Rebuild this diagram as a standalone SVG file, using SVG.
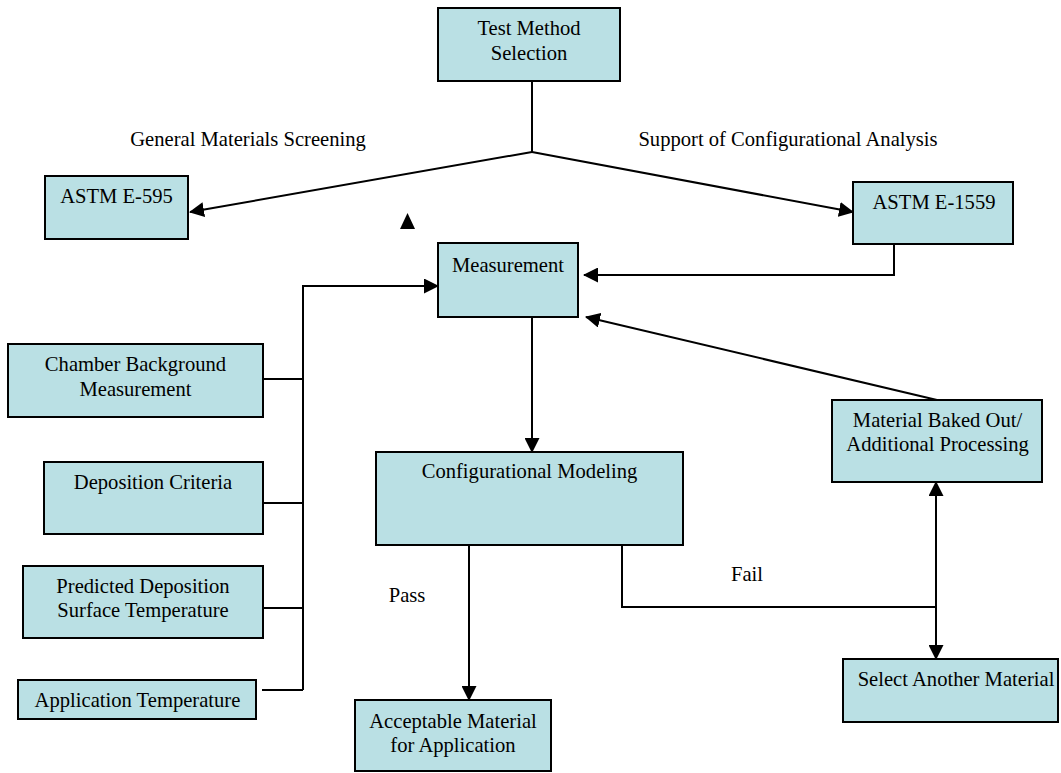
<svg xmlns="http://www.w3.org/2000/svg" width="1061" height="773" viewBox="0 0 1061 773">
<defs>
<style>
.box{fill:#bae0e4;stroke:#000;stroke-width:2}
.t{font-family:"Liberation Serif","Times New Roman",serif;font-size:20.6px;fill:#000;text-anchor:middle}
.c{fill:none;stroke:#000;stroke-width:2}
</style>
<marker id="ah" viewBox="0 0 15 15" refX="14" refY="7.5" markerWidth="15" markerHeight="15" markerUnits="userSpaceOnUse" orient="auto">
<path d="M0,0 L15,7.5 L0,15 z" fill="#000"/>
</marker>
</defs>
<rect width="1061" height="773" fill="#fff"/>

<g id="connectors">
<line class="c" x1="532" y1="81" x2="532" y2="152"/>
<line class="c" x1="532" y1="152" x2="190" y2="212" marker-end="url(#ah)"/>
<line class="c" x1="532" y1="152" x2="853" y2="212" marker-end="url(#ah)"/>
<polygon points="400,229 415,229 407.5,213" fill="#000"/>
<path class="c" d="M894,244 V275 H584" marker-end="url(#ah)"/>
<path class="c" d="M303,690 V286 H438" marker-end="url(#ah)"/>
<line class="c" x1="263" y1="379" x2="303" y2="379"/>
<line class="c" x1="263" y1="503" x2="303" y2="503"/>
<line class="c" x1="263" y1="608" x2="303" y2="608"/>
<line class="c" x1="262" y1="690" x2="303" y2="690"/>
<line class="c" x1="532" y1="317" x2="532" y2="452" marker-end="url(#ah)"/>
<line class="c" x1="937" y1="400" x2="586" y2="317" marker-end="url(#ah)"/>
<line class="c" x1="469" y1="545" x2="469" y2="700" marker-end="url(#ah)"/>
<path class="c" d="M622,545 V607 H936"/>
<line class="c" x1="936" y1="607" x2="936" y2="482" marker-end="url(#ah)"/>
<line class="c" x1="936" y1="607" x2="936" y2="659" marker-end="url(#ah)"/>
<text class="t" x="248" y="146">General Materials Screening</text>
<text class="t" x="788" y="146">Support of Configurational Analysis</text>
<text class="t" x="407" y="602">Pass</text>
<text class="t" x="747" y="581">Fail</text>
</g>

<g id="test-method">
<rect class="box" x="438" y="8" width="182" height="73"/>
<text class="t" x="529" y="35">Test Method</text>
<text class="t" x="529" y="60">Selection</text>
</g>
<g id="astm-e595">
<rect class="box" x="45" y="176" width="143" height="63"/>
<text class="t" x="116.5" y="203">ASTM E-595</text>
</g>
<g id="astm-e1559">
<rect class="box" x="853" y="182" width="160" height="62"/>
<text class="t" x="934" y="209">ASTM E-1559</text>
</g>
<g id="measurement">
<rect class="box" x="438" y="243" width="140" height="74"/>
<text class="t" x="508" y="272">Measurement</text>
</g>
<g id="chamber">
<rect class="box" x="8" y="344" width="255" height="73"/>
<text class="t" x="135.5" y="371">Chamber Background</text>
<text class="t" x="135.5" y="396">Measurement</text>
</g>
<g id="deposition">
<rect class="box" x="44" y="462" width="219" height="72"/>
<text class="t" x="153" y="489">Deposition Criteria</text>
</g>
<g id="predicted">
<rect class="box" x="23" y="566" width="240" height="72"/>
<text class="t" x="143" y="593">Predicted Deposition</text>
<text class="t" x="143" y="617">Surface Temperature</text>
</g>
<g id="application-temp">
<rect class="box" x="18" y="680" width="238" height="39"/>
<text class="t" x="137.5" y="707">Application Temperature</text>
</g>
<g id="config-modeling">
<rect class="box" x="376" y="452" width="307" height="93"/>
<text class="t" x="529.5" y="478">Configurational Modeling</text>
</g>
<g id="baked-out">
<rect class="box" x="832" y="400" width="210" height="82"/>
<text class="t" x="937.5" y="427">Material Baked Out/</text>
<text class="t" x="937.5" y="451">Additional Processing</text>
</g>
<g id="select-another">
<rect class="box" x="843" y="659" width="215" height="63"/>
<text class="t" x="956" y="686">Select Another Material</text>
</g>
<g id="acceptable">
<rect class="box" x="355" y="700" width="196" height="71"/>
<text class="t" x="453" y="728">Acceptable Material</text>
<text class="t" x="453" y="752">for Application</text>
</g>
</svg>
